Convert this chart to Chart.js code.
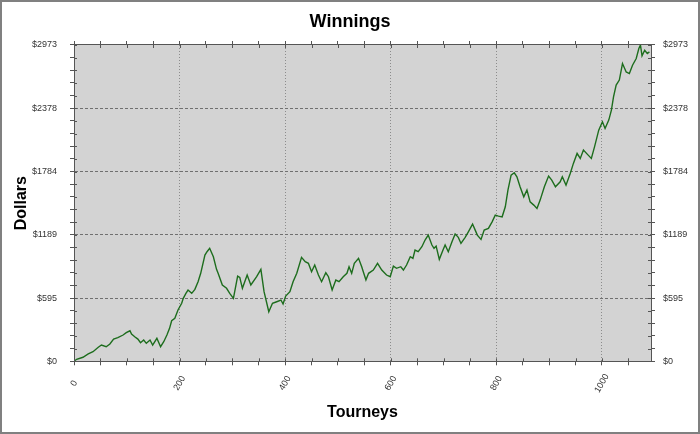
<!DOCTYPE html>
<html><head><meta charset="utf-8">
<script src="https://cdn.jsdelivr.net/npm/chart.js@4.4.1/dist/chart.umd.min.js"></script>
<style>html,body{margin:0;padding:0;background:#fff;}#wrap{width:700px;height:434px;}</style>
</head><body><div id="wrap"><canvas id="c" width="700" height="434"></canvas></div>
<script>
const tourneys = [0,5,17,27,36,46,52,61,68,75,83,93,99,106,109,115,121,126,132,137,144,149,157,164,170,176,181,185,191,197,204,207,212,216,223,229,235,240,248,252,257,264,270,273,281,289,295,302,310,314,319,328,335,346,354,360,369,376,384,392,396,401,409,415,422,431,438,444,450,456,463,469,477,482,489,496,502,510,517,521,526,531,539,545,548,553,558,567,575,583,592,599,605,611,619,624,630,637,642,646,652,659,665,671,678,682,686,692,699,703,709,716,722,728,733,741,747,755,760,764,771,777,785,792,798,804,811,817,822,828,834,839,845,852,858,864,871,877,883,891,899,905,912,921,925,932,940,946,953,959,965,974,980,986,994,1001,1006,1013,1018,1022,1027,1033,1039,1046,1052,1058,1065,1070,1073,1076,1081,1086,1090];
const dollars = [0,19,38,69,90,132,153,137,163,209,222,247,269,287,256,231,209,175,200,169,200,153,216,137,184,247,310,381,404,482,545,592,639,670,639,676,748,827,999,1030,1062,983,864,827,717,686,639,592,801,789,686,811,717,795,864,654,466,545,560,576,538,613,654,748,827,977,936,921,842,905,811,748,832,795,670,764,748,795,827,889,827,921,968,889,842,764,827,858,921,858,811,795,895,874,889,858,905,983,968,1046,1030,1077,1140,1186,1093,1062,1083,958,1046,1093,1030,1124,1196,1165,1108,1165,1217,1290,1233,1186,1146,1233,1249,1311,1374,1365,1358,1452,1609,1750,1772,1734,1640,1546,1609,1499,1468,1437,1515,1640,1741,1703,1640,1687,1734,1656,1766,1860,1954,1907,1985,1938,1907,2016,2173,2251,2189,2267,2361,2486,2596,2643,2799,2720,2705,2783,2846,2940,2973,2871,2924,2893,2908];
const xTickValues = [0,200,400,600,800,1000];
const xTickLabels = ['0','200','400','600','800','1000'];
const yTickValues = [0,594.6,1189.2,1783.8,2378.4,2973];
const yTickLabels = ['$0','$595','$1189','$1784','$2378','$2973'];
const xMax = 1093;
const xMinorStep = 50;
const yMinorPerMajor = 5;

const FONT = '"Liberation Sans", Arial, sans-serif';
const points = tourneys.map((t,i)=>({x:t,y:dollars[i]}));

function xTicks(scale){
  const t=[]; for(let v=0; v<=xMax; v+=xMinorStep) t.push({value:v}); scale.ticks=t;
}
function yTicks(scale){
  const t=[];
  for(let i=0;i<yTickValues.length-1;i++){
    const a=yTickValues[i], b=yTickValues[i+1];
    for(let k=0;k<yMinorPerMajor;k++) t.push({value:a+(b-a)*k/yMinorPerMajor});
  }
  t.push({value:yTickValues[yTickValues.length-1]});
  scale.ticks=t;
}
function yLabel(v){
  const i=yTickValues.findIndex(a=>Math.abs(a-v)<1e-6);
  return i>=0?yTickLabels[i]:'';
}
function isInnerYMajor(v){
  const i=yTickValues.findIndex(a=>Math.abs(a-v)<1e-6);
  return i>0 && i<yTickValues.length-1;
}
function isInnerXMajor(v){
  return xTickValues.indexOf(v)>0;
}

const framePlugin = {
  id:'frame',
  beforeDraw(chart){
    const {ctx, chartArea:a} = chart;
    ctx.save();
    ctx.fillStyle='#ffffff'; ctx.fillRect(0,0,chart.width,chart.height);
    ctx.fillStyle='#d3d3d3'; ctx.fillRect(a.left,a.top,a.right-a.left,a.bottom-a.top);
    ctx.restore();
  },
  afterDraw(chart){
    const ctx=chart.ctx, a=chart.chartArea;
    ctx.save();
    // inner tick marks
    ctx.strokeStyle='#555'; ctx.lineWidth=1;
    ['x','x2'].forEach(id=>{
      const s=chart.scales[id];
      s.ticks.forEach(t=>{
        const p=Math.round(s.getPixelForValue(t.value))+0.5;
        ctx.beginPath();
        if(id==='x'){ctx.moveTo(p,a.bottom);ctx.lineTo(p,a.bottom-3);} else {ctx.moveTo(p,a.top);ctx.lineTo(p,a.top+3);}
        ctx.stroke();
      });
    });
    ['y','y2'].forEach(id=>{
      const s=chart.scales[id];
      s.ticks.forEach(t=>{
        const p=Math.round(s.getPixelForValue(t.value))+0.5;
        ctx.beginPath();
        if(id==='y'){ctx.moveTo(a.left,p);ctx.lineTo(a.left+3,p);} else {ctx.moveTo(a.right,p);ctx.lineTo(a.right-3,p);}
        ctx.stroke();
      });
    });
    // x tick labels, rotated
    const xs=chart.scales.x;
    ctx.font='9px '+FONT; ctx.fillStyle='#333'; ctx.textAlign='center'; ctx.textBaseline='middle';
    xTickValues.forEach((v,i)=>{
      const px=xs.getPixelForValue(v);
      ctx.save(); ctx.translate(px, a.bottom+22); ctx.rotate(-Math.PI/3);
      ctx.fillText(xTickLabels[i],0,0); ctx.restore();
    });
    // outer frame
    ctx.strokeStyle='#808080'; ctx.lineWidth=2;
    ctx.strokeRect(1,1,chart.width-2,chart.height-2);
    ctx.restore();
  }
};

new Chart(document.getElementById('c'), {
  type:'line',
  data:{datasets:[{data:points, borderColor:'#1d6d1d', borderWidth:1.4, pointRadius:0, tension:0, fill:false}]},
  options:{
    responsive:false, animation:false, devicePixelRatio:1,
    layout:{padding:0, autoPadding:false},
    plugins:{
      legend:{display:false}, tooltip:{enabled:false},
      title:{display:true, text:'Winnings', color:'#000', font:{family:FONT, size:18, weight:'bold', lineHeight:1.2}, padding:{top:11,bottom:0}}
    },
    scales:{
      x:{type:'linear', position:'bottom', min:0, max:xMax,
        afterBuildTicks:xTicks, afterFit(s){s.height=434-361.3;},
        ticks:{display:false, autoSkip:false},
        grid:{color:c=>isInnerXMajor(c.tick&&c.tick.value)?'#8c8c8c':'rgba(0,0,0,0)', lineWidth:1, tickColor:'#555', tickLength:4},
        border:{display:true, color:'#555', width:1, dash:[1,2]},
        title:{display:true, text:'Tourneys', color:'#000', font:{family:FONT,size:16,weight:'bold',lineHeight:1.2}, padding:{top:0,bottom:12}}
      },
      x2:{type:'linear', position:'top', min:0, max:xMax,
        afterBuildTicks:xTicks, afterFit(s){s.height=12.4;},
        ticks:{display:false, autoSkip:false},
        grid:{drawOnChartArea:false, tickColor:'#555', tickLength:4},
        border:{display:true, color:'#555', width:1}
      },
      y:{type:'linear', position:'left', min:0, max:2973,
        afterBuildTicks:yTicks, afterFit(s){s.width=74;},
        ticks:{autoSkip:false, callback:v=>yLabel(v), color:'#333', font:{family:FONT,size:9}, padding:13},
        grid:{color:c=>isInnerYMajor(c.tick&&c.tick.value)?'#707070':'rgba(0,0,0,0)', lineWidth:1, tickColor:'#555', tickLength:4},
        border:{display:true, color:'#555', width:1, dash:[3,2]},
        title:{display:true, text:'Dollars', color:'#000', font:{family:FONT,size:16,weight:'bold',lineHeight:1.2}, padding:{top:12,bottom:0}}
      },
      y2:{type:'linear', position:'right', min:0, max:2973,
        afterBuildTicks:yTicks, afterFit(s){s.width=49;},
        ticks:{autoSkip:false, callback:v=>yLabel(v), color:'#333', font:{family:FONT,size:9}, padding:8},
        grid:{drawOnChartArea:false, tickColor:'#555', tickLength:4},
        border:{display:true, color:'#555', width:1}
      }
    }
  },
  plugins:[framePlugin]
});
</script></body></html>
